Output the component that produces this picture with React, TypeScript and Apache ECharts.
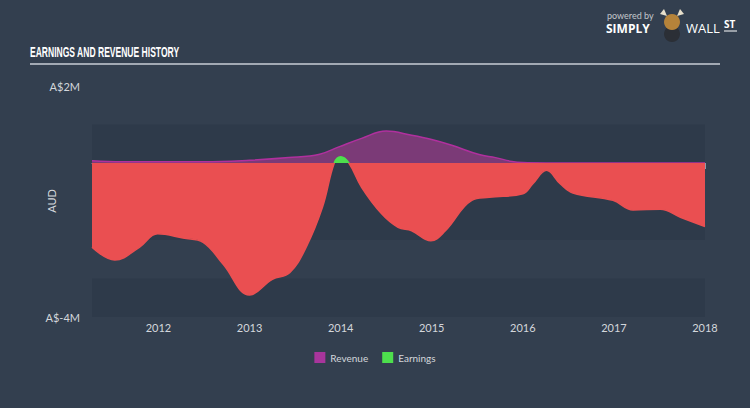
import React, { useEffect, useRef } from "react";
import * as echarts from "echarts";

const earningsYears = [2011.27, 2011.52, 2011.79, 2011.99, 2012.27, 2012.49, 2012.71, 2013.0, 2013.25, 2013.44, 2013.62, 2013.8, 2013.93, 2014.0, 2014.09, 2014.23, 2014.45, 2014.63, 2014.78, 2014.99, 2015.15, 2015.44, 2015.63, 2016.0, 2016.11, 2016.26, 2016.41, 2016.55, 2016.99, 2017.21, 2017.51, 2017.73, 2018.0];
const earnings = [-2.19, -2.52, -2.19, -1.84, -1.95, -2.06, -2.63, -3.43, -3.02, -2.85, -2.19, -1.15, 0, 0.16, 0, -0.63, -1.32, -1.67, -1.76, -2.02, -1.76, -0.97, -0.89, -0.8, -0.54, -0.19, -0.54, -0.78, -0.97, -1.22, -1.2, -1.41, -1.65];

const revenueYears = [2011.27, 2011.6, 2012.0, 2012.5, 2013.0, 2013.43, 2013.77, 2013.98, 2014.23, 2014.5, 2014.78, 2015.0, 2015.22, 2015.52, 2015.7, 2015.88, 2016.0, 2016.26, 2017.0, 2018.0];
const revenue = [0.06, 0.03, 0.03, 0.03, 0.07, 0.14, 0.23, 0.42, 0.64, 0.83, 0.72, 0.61, 0.46, 0.22, 0.14, 0.04, 0.01, 0, 0, 0];

const yearTicks = [2012, 2013, 2014, 2015, 2016, 2017, 2018];
const xMin = 2011.27;
const xMax = 2018;
const yMin = -4;
const yMax = 2;
const bands = [
  [1, -2],
  [-3, -4],
];

const FONT = "Lato, 'Open Sans', sans-serif";

export default function App() {
  const ref = useRef<HTMLDivElement>(null);
  useEffect(() => {
    if (!ref.current) return;
    const chart = echarts.init(ref.current, undefined, { renderer: "svg" });
    chart.setOption({
      animation: false,
      backgroundColor: "#333f4f",
      grid: { left: 92, right: 45, top: 86, bottom: 91 },
      xAxis: {
        type: "value",
        min: xMin,
        max: xMax,
        splitLine: { show: false },
        axisLine: { show: true, lineStyle: { color: "#8e9bab", width: 1 } },
        axisTick: { show: true, customValues: yearTicks, length: 6, lineStyle: { color: "#8e9bab" } },
        axisLabel: {
          customValues: yearTicks,
          color: "#d3d7dc",
          fontSize: 11,
          fontFamily: FONT,
          margin: 5,
          formatter: (v: number) => String(Math.round(v)),
        },
      },
      yAxis: {
        type: "value",
        min: yMin,
        max: yMax,
        interval: yMax - yMin,
        splitLine: { show: false },
        axisLine: { show: false },
        axisTick: { show: false },
        axisLabel: {
          color: "#d3d7dc",
          fontSize: 11,
          fontFamily: FONT,
          margin: 12,
          formatter: (v: number) => "A$" + v + "M",
        },
      },
      legend: {
        bottom: 40,
        left: "center",
        itemWidth: 11,
        itemHeight: 11,
        itemGap: 14,
        icon: "rect",
        textStyle: { color: "#d3d7dc", fontSize: 10, fontFamily: FONT },
        data: [
          { name: "Revenue", itemStyle: { color: "#a8359c" } },
          { name: "Earnings", itemStyle: { color: "#4ddf4d" } },
        ],
      },
      visualMap: {
        show: false,
        type: "piecewise",
        seriesIndex: 2,
        dimension: 1,
        pieces: [
          { gt: -100, lte: 0, color: "#ea4f51" },
          { gt: 0, lte: 100, color: "#4ddf4d" },
        ],
      },
      series: [
        {
          name: "bands",
          type: "line",
          z: 1,
          data: [[xMin, 0], [xMax, 0]],
          symbol: "none",
          lineStyle: { opacity: 0 },
          silent: true,
          markArea: {
            silent: true,
            itemStyle: { color: "#2e3a4a" },
            data: bands.map((b) => [
              { xAxis: xMin, yAxis: b[0] },
              { xAxis: xMax, yAxis: b[1] },
            ]),
          },
        },
        {
          name: "Revenue",
          type: "line",
          z: 2,
          smooth: 0.4,
          symbol: "none",
          data: revenueYears.map((y, i) => [y, revenue[i]]),
          lineStyle: { color: "#b0309e", width: 1.5 },
          itemStyle: { color: "#a8359c" },
          areaStyle: { color: "#7b3a77", opacity: 1 },
        },
        {
          name: "Earnings",
          type: "line",
          z: 3,
          smooth: 0.4,
          symbol: "none",
          data: earningsYears.map((y, i) => [y, earnings[i]]),
          lineStyle: { width: 1.5 },
          itemStyle: { color: "#4ddf4d" },
          areaStyle: { opacity: 1 },
        },
      ],
      graphic: [
        {
          type: "text",
          x: 51,
          y: 201,
          rotation: Math.PI / 2,
          style: {
            text: "AUD",
            fill: "#d3d7dc",
            font: "11px " + FONT,
            align: "center",
            verticalAlign: "middle",
          },
        },
        {
          type: "text",
          x: 30,
          y: 52,
          scaleX: 0.57,
          style: {
            text: "EARNINGS AND REVENUE HISTORY",
            fill: "#ffffff",
            font: "bold 15px 'Liberation Sans', sans-serif",
            verticalAlign: "middle",
          },
        },
        {
          type: "line",
          shape: { x1: 30, y1: 64, x2: 720, y2: 64 },
          style: { stroke: "#c9ced4", lineWidth: 1.5 },
        },
        {
          type: "text",
          x: 607,
          y: 15,
          style: { text: "powered by", fill: "#c3c7cc", font: "9px " + FONT, verticalAlign: "middle" },
        },
        {
          type: "text",
          x: 606,
          y: 28,
          style: { text: "SIMPLY", fill: "#ffffff", font: "bold 12px 'Open Sans', sans-serif", verticalAlign: "middle" },
        },
        {
          type: "polygon",
          shape: { points: [[660, 14], [664, 9], [667, 16]] },
          style: { fill: "#e8e0cc" },
        },
        {
          type: "polygon",
          shape: { points: [[684, 14], [680, 9], [677, 16]] },
          style: { fill: "#e8e0cc" },
        },
        {
          type: "circle",
          shape: { cx: 672, cy: 34, r: 8 },
          style: { fill: "#2b2f36" },
        },
        {
          type: "circle",
          shape: { cx: 672, cy: 22, r: 8 },
          style: { fill: "#b5833a" },
        },
        {
          type: "text",
          x: 686,
          y: 28,
          style: { text: "WALL", fill: "#ffffff", font: "13px 'Open Sans', sans-serif", verticalAlign: "middle" },
        },
        {
          type: "text",
          x: 724,
          y: 24,
          style: { text: "ST", fill: "#ffffff", font: "bold 10px 'Open Sans', sans-serif", verticalAlign: "middle" },
        },
        {
          type: "line",
          shape: { x1: 724, y1: 31, x2: 737, y2: 31 },
          style: { stroke: "#ffffff", lineWidth: 1 },
        },
      ],
    });
    return () => chart.dispose();
  }, []);
  return (
    <div
      ref={ref}
      style={{ position: "absolute", left: 0, top: 0, width: 750, height: 408 }}
    />
  );
}
